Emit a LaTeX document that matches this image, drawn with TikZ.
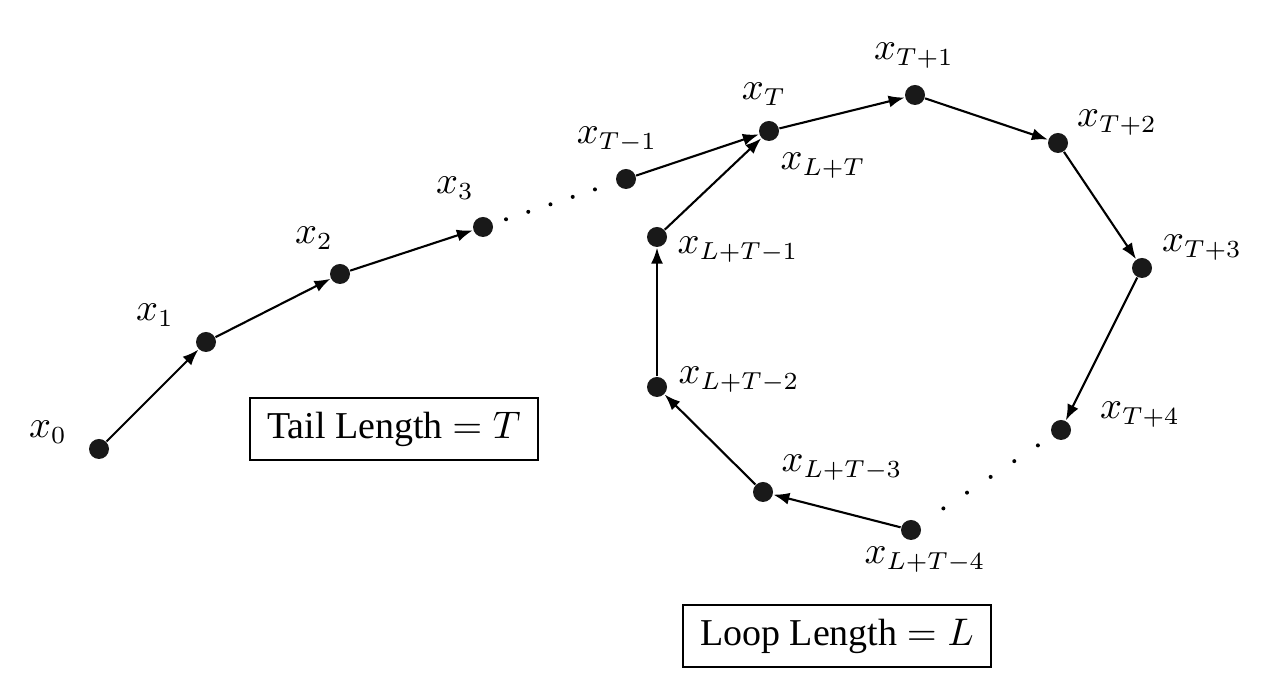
\documentclass[tikz,border=0pt]{standalone}
\usepackage[no-math]{fontspec}
\setmainfont{Liberation Serif}
\usepackage{tikz}
\usetikzlibrary{arrows.meta,calc}

\begin{document}
\begin{tikzpicture}[y=-1cm,
  pt/.style={circle, fill=black!90, inner sep=0pt, minimum size=0.2cm},
  lbl/.style={inner sep=0pt, font=\fontsize{10.5}{12}\selectfont},
  arr/.style={semithick, -{Latex[length=1.6mm, width=1.2mm]}},
  dotline/.style={line width=0.4mm, line cap=round, dash pattern=on 0pt off #1},
  lenbox/.style={draw, line width=0.5pt, inner xsep=1.7mm, minimum height=6.2mm, font=\fontsize{10.8}{13}\selectfont}]%
\useasboundingbox (0,0) rectangle (12.7,6.88);%
% points of the walk
\node[pt] (x0) at (0.99,4.49) {};%
\node[pt] (x1) at (2.06,3.42) {};%
\node[pt] (x2) at (3.40,2.74) {};%
\node[pt] (x3) at (4.83,2.27) {};%
\node[pt] (xTm1) at (6.26,1.79) {};%
\node[pt] (xT) at (7.69,1.31) {};%
\node[pt] (xTp1) at (9.15,0.95) {};%
\node[pt] (xTp2) at (10.58,1.43) {};%
\node[pt] (xTp3) at (11.42,2.68) {};%
\node[pt] (xTp4) at (10.61,4.30) {};%
\node[pt] (xLTm4) at (9.11,5.30) {};%
\node[pt] (xLTm3) at (7.63,4.92) {};%
\node[pt] (xLTm2) at (6.57,3.87) {};%
\node[pt] (xLTm1) at (6.57,2.37) {};%
% labels
\node[lbl] (l0) at (0.48,4.32) {$x_0$};%
\node[lbl] (l1) at (1.55,3.15) {$x_1$};%
\node[lbl] (l2) at (3.14,2.38) {$x_2$};%
\node[lbl] (l3) at (4.55,1.88) {$x_3$};%
\node[lbl] (lTm1) at (6.17,1.40) {$x_{T-1}$};%
\node[lbl] (lT) at (7.64,0.94) {$x_T$};%
\node[lbl] (lLT) at (8.23,1.66) {$x_{L+T}$};%
\node[lbl] (lTp1) at (9.14,0.56) {$x_{T+1}$};%
\node[lbl] (lTp2) at (11.17,1.23) {$x_{T+2}$};%
\node[lbl] (lTp3) at (12.02,2.48) {$x_{T+3}$};%
\node[lbl] (lTp4) at (11.40,4.15) {$x_{T+4}$};%
\node[lbl] (lLTm4) at (9.25,5.60) {$x_{L+T-4}$};%
\node[lbl] (lLTm3) at (8.42,4.68) {$x_{L+T-3}$};%
\node[lbl] (lLTm2) at (7.39,3.80) {$x_{L+T-2}$};%
\node[lbl] (lLTm1) at (7.38,2.50) {$x_{L+T-1}$};%
% tail
\draw[arr] (x0) -- (x1);%
\draw[arr] (x1) -- (x2);%
\draw[arr] (x2) -- (x3);%
\draw[dotline=2.345mm] ($(x3)!0.161!(xTm1)$) -- ($(x3)!0.786!(xTm1)$);%
\draw[arr] (xTm1) -- (xT);%
% loop
\draw[arr] (xT) -- (xTp1);%
\draw[arr] (xTp1) -- (xTp2);%
\draw[arr] (xTp2) -- (xTp3);%
\draw[arr] (xTp3) -- (xTp4);%
\draw[dotline=2.84mm] ($(xTp4)!0.154!(xLTm4)$) -- ($(xTp4)!0.787!(xLTm4)$);%
\draw[arr] (xLTm4) -- (xLTm3);%
\draw[arr] (xLTm3) -- (xLTm2);%
\draw[arr] (xLTm2) -- (xLTm1);%
\draw[arr] (xLTm1) -- (xT);%
% lengths
\node[lenbox] (tail) at (3.94,4.29) {Tail Length $=T$};%
\node[lenbox] (loop) at (8.37,6.36) {Loop Length $=L$};%
\end{tikzpicture}
\end{document}
